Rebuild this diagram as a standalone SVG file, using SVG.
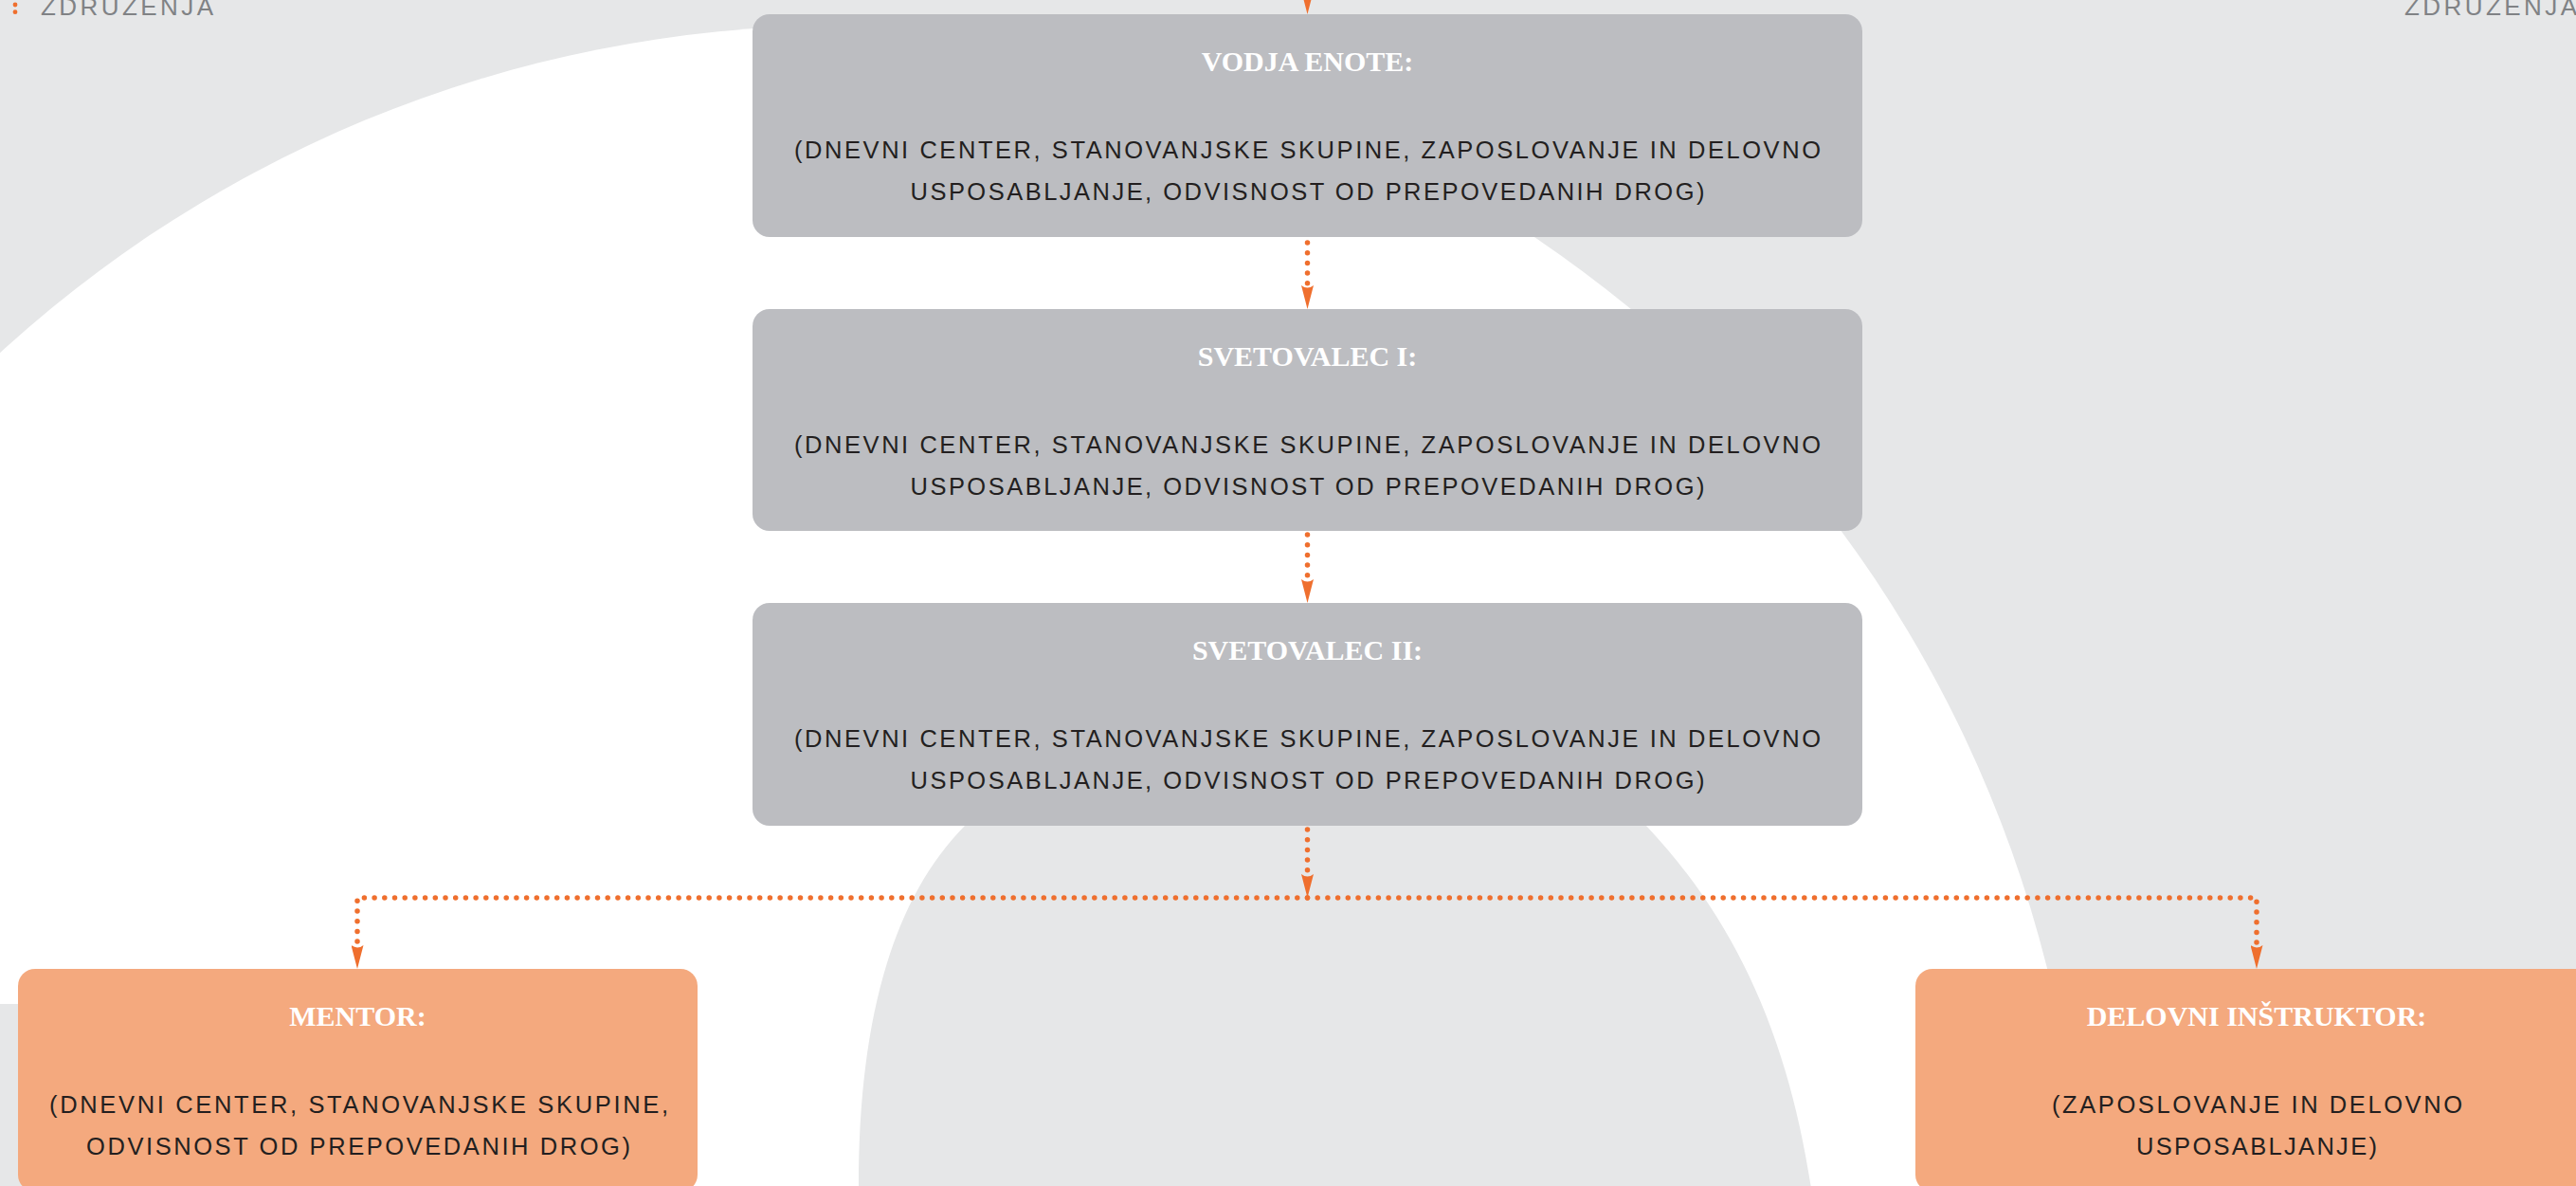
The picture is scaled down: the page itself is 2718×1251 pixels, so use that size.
<svg xmlns="http://www.w3.org/2000/svg" width="2718" height="1251" viewBox="0 0 2718 1251">
<style>
.bg{fill:#e6e7e8}
.wh{fill:#ffffff}
.gbox{fill:#bcbdc1}
.obox{fill:#f4a97e}
.ttl{font-family:"Liberation Serif","Times New Roman",serif;font-weight:bold;font-size:30px;fill:#ffffff;text-anchor:middle}
.bdy{font-family:"Liberation Sans",Arial,sans-serif;font-size:25.5px;fill:#231f20;text-anchor:middle}
.hdr{font-family:"Liberation Sans",Arial,sans-serif;font-size:26px;fill:#808285}
.con{fill:none;stroke:#ef6f2e;stroke-width:5.5;stroke-linecap:round;stroke-dasharray:0 10.7}
</style>
<defs>
<marker id="arr" markerUnits="userSpaceOnUse" viewBox="0 0 25 13" refX="0" refY="6.5" markerWidth="25" markerHeight="13" orient="auto">
<path d="M0,0 Q5,6.5 0,13 L25,6.5 Z" fill="#ef6f2e"/>
</marker>
</defs>
<g id="background">
<rect class="bg" x="0" y="0" width="2718" height="1251"/>
<circle class="wh" cx="887" cy="1339" r="1312"/>
<path class="bg" d="M906,1260 L906,1251 C906,1080 940,950 1018,871 C1100,760 1250,690 1390,690 C1550,690 1680,790 1737,871 C1840,980 1890,1110 1912,1260 Z"/>
<rect class="bg" x="0" y="1059" width="300" height="200"/>
</g>
<g id="header">
<circle cx="16" cy="5" r="2.4" fill="#ef6f2e"/>
<circle cx="16" cy="12.7" r="2.4" fill="#ef6f2e"/>
<text class="hdr" x="43" y="16" textLength="182" lengthAdjust="spacing">ZDRUŽENJA</text>
<text class="hdr" x="2537" y="16" textLength="182" lengthAdjust="spacing">ZDRUŽENJA</text>
</g>
<g id="connectors">
<path d="M1379.5,-30 L1379.5,-10" class="con" stroke-opacity="0" marker-end="url(#arr)"/>
<path class="con" d="M1379.5,256 V301" marker-end="url(#arr)"/>
<path class="con" d="M1379.5,564 V611" marker-end="url(#arr)"/>
<path class="con" d="M1379.5,875 V922" marker-end="url(#arr)"/>
<path class="con" d="M1379.5,947 H377 V997" marker-end="url(#arr)"/>
<path class="con" d="M1379.5,947 H2381 V997" marker-end="url(#arr)"/>
</g>
<g id="vodja-enote">
<rect class="gbox" x="794" y="15" width="1171" height="235" rx="18"/>
<text class="ttl" x="1379.5" y="75">VODJA ENOTE:</text>
<text class="bdy" x="1379.5" y="167" textLength="1083" lengthAdjust="spacing">(DNEVNI CENTER, STANOVANJSKE SKUPINE, ZAPOSLOVANJE IN DELOVNO</text>
<text class="bdy" x="1379.5" y="211" textLength="838" lengthAdjust="spacing">USPOSABLJANJE, ODVISNOST OD PREPOVEDANIH DROG)</text>
</g>
<g id="svetovalec-1">
<rect class="gbox" x="794" y="326" width="1171" height="234" rx="18"/>
<text class="ttl" x="1379.5" y="386">SVETOVALEC I:</text>
<text class="bdy" x="1379.5" y="478" textLength="1083" lengthAdjust="spacing">(DNEVNI CENTER, STANOVANJSKE SKUPINE, ZAPOSLOVANJE IN DELOVNO</text>
<text class="bdy" x="1379.5" y="522" textLength="838" lengthAdjust="spacing">USPOSABLJANJE, ODVISNOST OD PREPOVEDANIH DROG)</text>
</g>
<g id="svetovalec-2">
<rect class="gbox" x="794" y="636" width="1171" height="235" rx="18"/>
<text class="ttl" x="1379.5" y="696">SVETOVALEC II:</text>
<text class="bdy" x="1379.5" y="788" textLength="1083" lengthAdjust="spacing">(DNEVNI CENTER, STANOVANJSKE SKUPINE, ZAPOSLOVANJE IN DELOVNO</text>
<text class="bdy" x="1379.5" y="832" textLength="838" lengthAdjust="spacing">USPOSABLJANJE, ODVISNOST OD PREPOVEDANIH DROG)</text>
</g>
<g id="mentor">
<rect class="obox" x="19" y="1022" width="717" height="235" rx="18"/>
<text class="ttl" x="377.5" y="1082">MENTOR:</text>
<text class="bdy" x="378.5" y="1174" textLength="653" lengthAdjust="spacing">(DNEVNI CENTER, STANOVANJSKE SKUPINE,</text>
<text class="bdy" x="378" y="1218" textLength="574" lengthAdjust="spacing">ODVISNOST OD PREPOVEDANIH DROG)</text>
</g>
<g id="delovni-instruktor">
<rect class="obox" x="2021" y="1022" width="717" height="235" rx="18"/>
<text class="ttl" x="2381" y="1082">DELOVNI INŠTRUKTOR:</text>
<text class="bdy" x="2381.5" y="1174" textLength="433" lengthAdjust="spacing">(ZAPOSLOVANJE IN DELOVNO</text>
<text class="bdy" x="2381" y="1218" textLength="254" lengthAdjust="spacing">USPOSABLJANJE)</text>
</g>
</svg>
